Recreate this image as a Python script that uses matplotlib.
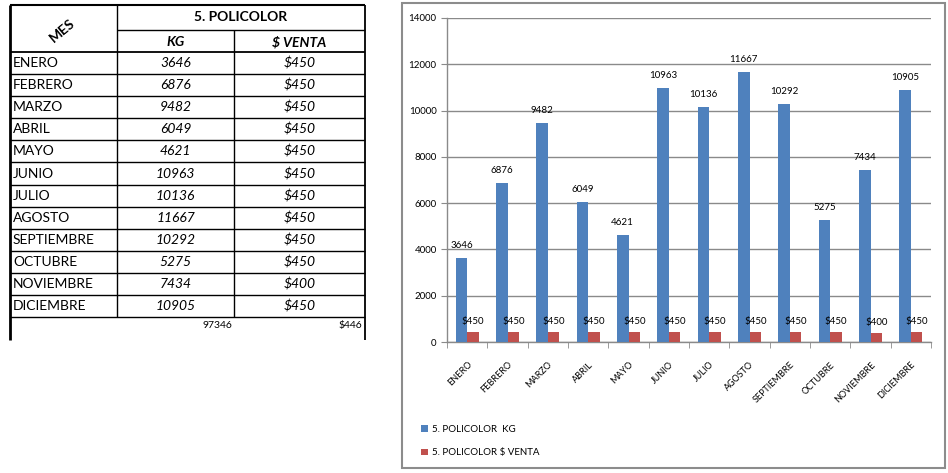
import matplotlib
matplotlib.use('Agg')
import matplotlib.pyplot as plt
import numpy as np

plt.rcParams['font.family'] = ['Lato', 'DejaVu Sans']
plt.rcParams['text.parse_math'] = False

meses = ['ENERO', 'FEBRERO', 'MARZO', 'ABRIL', 'MAYO', 'JUNIO', 'JULIO',
         'AGOSTO', 'SEPTIEMBRE', 'OCTUBRE', 'NOVIEMBRE', 'DICIEMBRE']
kg = [3646, 6876, 9482, 6049, 4621, 10963, 10136, 11667, 10292, 5275, 7434, 10905]
venta = [450, 450, 450, 450, 450, 450, 450, 450, 450, 450, 400, 450]
total_kg = '97346'
prom_venta = '$446'

W, H = 948, 473
fig = plt.figure(figsize=(W / 100, H / 100), dpi=100)

# ---- table drawn in pixel coordinates ----
tab = fig.add_axes([0, 0, 1, 1])
tab.set_xlim(0, W)
tab.set_ylim(H, 0)
tab.axis('off')

x0, x1, x2, x3 = 10, 117, 234, 365
y_top, y_h2, y_rows = 5, 30, 52
rh = 22.1

def hline(y, xa, xb, lw=1.0):
    tab.plot([xa, xb], [y, y], color='black', lw=lw, solid_capstyle='butt')

def vline(x, ya, yb, lw=1.0):
    tab.plot([x, x], [ya, yb], color='black', lw=lw, solid_capstyle='butt')

y_end = y_rows + rh * len(meses)
hline(y_top, x0, x3, 1.5)
hline(y_h2, x1, x3)
for i in range(len(meses) + 1):
    hline(y_rows + i * rh, x0, x3, 1.3 if i == 0 else 1.0)
vline(x0, y_top, 340, 2.0)
vline(x1, y_top, y_end)
vline(x2, y_h2, y_end)
vline(x3, y_top, 340, 1.3)

fs = 10
tab.text(62, 31, 'MES', rotation=40, ha='center', va='center',
         fontsize=fs, fontweight='bold')
tab.text((x1 + x3) / 2, 17, '5. POLICOLOR', ha='center', va='center',
         fontsize=fs, fontweight='bold')
tab.text((x1 + x2) / 2, 42, 'KG', ha='center', va='center',
         fontsize=fs, fontweight='bold', style='italic')
tab.text((x2 + x3) / 2, 42, '$ VENTA', ha='center', va='center',
         fontsize=fs, fontweight='bold', style='italic')
for i, m in enumerate(meses):
    yc = y_rows + (i + 0.5) * rh
    tab.text(x0 + 3, yc, m, ha='left', va='center', fontsize=fs)
    tab.text((x1 + x2) / 2, yc, str(kg[i]), ha='center', va='center',
             fontsize=fs, style='italic')
    tab.text((x2 + x3) / 2, yc, '$' + str(venta[i]), ha='center', va='center',
             fontsize=fs, style='italic')
tab.text(x2 - 2, 325, total_kg, ha='right', va='center', fontsize=7.5)
tab.text(x3 - 3, 325, prom_venta, ha='right', va='center', fontsize=7.5)

# chart frame
tab.add_patch(plt.Rectangle((402, 3), 543, 465, fill=False,
                            edgecolor='#8c8c8c', lw=1.5))

# ---- bar chart ----
ax = fig.add_axes([447 / W, (H - 342) / H, (931 - 447) / W, (342 - 18) / H])
x = np.arange(len(meses))
bw = 0.285
b1 = ax.bar(x - bw / 2, kg, bw, color='#4F81BD', label='5. POLICOLOR  KG', zorder=3)
b2 = ax.bar(x + bw / 2, venta, bw, color='#C0504D', label='5. POLICOLOR $ VENTA', zorder=3)

for r, v in zip(b1, kg):
    ax.annotate(str(v), (r.get_x() + r.get_width() / 2, v), xytext=(0, 9),
                textcoords='offset points', ha='center', va='center', fontsize=7)
for r, v in zip(b2, venta):
    ax.annotate('$' + str(v), (r.get_x() + r.get_width() / 2, v), xytext=(0, 7.5),
                textcoords='offset points', ha='center', va='center', fontsize=7)

ax.set_xlim(-0.5, len(meses) - 0.5)
ax.set_ylim(0, 14000)
ax.set_yticks(range(0, 14001, 2000))
ax.yaxis.grid(True, color='#8a8a8a', lw=1.0, zorder=0)
ax.set_xticks(x)
ax.set_xticklabels(meses, rotation=45, ha='right', rotation_mode='anchor', fontsize=6.5)
ax.set_xticks(np.arange(-0.5, len(meses)), minor=True)
ax.tick_params(axis='x', which='major', length=0, pad=13)
ax.tick_params(axis='x', which='minor', length=4, color='#8a8a8a', direction='out')
ax.tick_params(axis='y', length=4, color='#8a8a8a', labelsize=7)
for s in ['top', 'right']:
    ax.spines[s].set_visible(False)
for s in ['left', 'bottom']:
    ax.spines[s].set_color('#8a8a8a')
    ax.spines[s].set_linewidth(1.0)
ax.set_facecolor('none')

leg = fig.legend(handles=[b1, b2], loc='upper left', bbox_to_anchor=(412 / W, 1 - 416 / H),
                 frameon=False, fontsize=7, handlelength=0.7, handleheight=0.7,
                 labelspacing=1.5, handletextpad=0.5)

fig.savefig('out.png', dpi=100)
